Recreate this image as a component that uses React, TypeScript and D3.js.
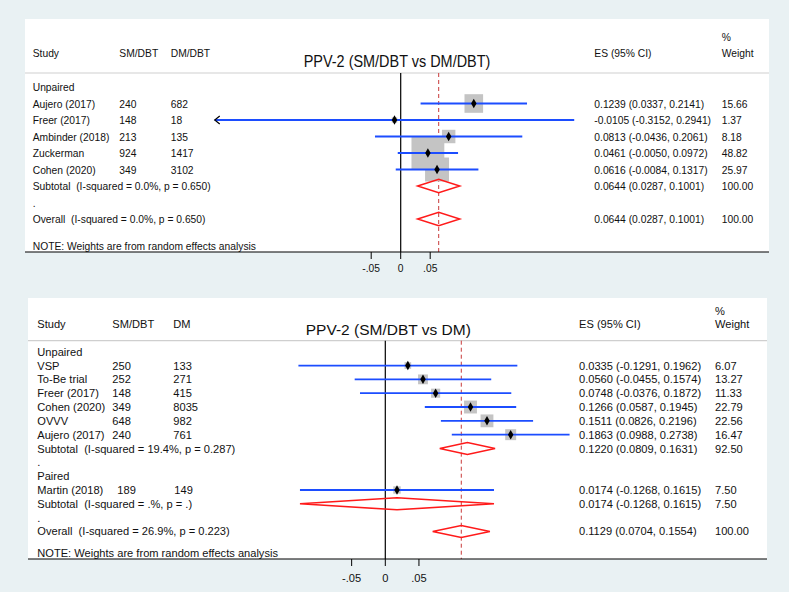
import React from "react";
import * as d3 from "d3";

// ---------- Data: top panel (SM/DBT vs DM/DBT) ----------
const topStudies = ["Aujero (2017)", "Freer (2017)", "Ambinder (2018)", "Zuckerman", "Cohen (2020)"];
const topSM = [240, 148, 213, 924, 349];
const topDM = [682, 18, 135, 1417, 3102];
const topES = [0.1239, -0.0105, 0.0813, 0.0461, 0.0616];
const topLo = [0.0337, -0.3152, -0.0436, -0.005, -0.0084];
const topHi = [0.2141, 0.2941, 0.2061, 0.0972, 0.1317];
const topW = [15.66, 1.37, 8.18, 48.82, 25.97];
const topPoolLabels = ["Subtotal  (I-squared = 0.0%, p = 0.650)", "Overall  (I-squared = 0.0%, p = 0.650)"];
const topPoolES = [0.0644, 0.0644];
const topPoolLo = [0.0287, 0.0287];
const topPoolHi = [0.1001, 0.1001];
const topPoolW = [100.0, 100.0];

// ---------- Data: bottom panel (SM/DBT vs DM) ----------
const botStudiesA = ["VSP", "To-Be trial", "Freer (2017)", "Cohen (2020)", "OVVV", "Aujero (2017)"];
const botSMA = [250, 252, 148, 349, 648, 240];
const botDMA = [133, 271, 415, 8035, 982, 761];
const botESA = [0.0335, 0.056, 0.0748, 0.1266, 0.1511, 0.1863];
const botLoA = [-0.1291, -0.0455, -0.0376, 0.0587, 0.0826, 0.0988];
const botHiA = [0.1962, 0.1574, 0.1872, 0.1945, 0.2196, 0.2738];
const botWA = [6.07, 13.27, 11.33, 22.79, 22.56, 16.47];
const botStudiesB = ["Martin (2018)"];
const botSMB = [189];
const botDMB = [149];
const botESB = [0.0174];
const botLoB = [-0.1268];
const botHiB = [0.1615];
const botWB = [7.5];
const botPoolLabels = [
  "Subtotal  (I-squared = 19.4%, p = 0.287)",
  "Subtotal  (I-squared = .%, p = .)",
  "Overall  (I-squared = 26.9%, p = 0.223)",
];
const botPoolES = [0.122, 0.0174, 0.1129];
const botPoolLo = [0.0809, -0.1268, 0.0704];
const botPoolHi = [0.1631, 0.1615, 0.1554];
const botPoolW = [92.5, 7.5, 100.0];

const tickValues = [-0.05, 0, 0.05];
const tickLabels = ["-.05", "0", ".05"];

const BLUE = "#1c4dff";
const RED = "#ff1a1a";
const DASH = "#c83a3a";
const BOX = "#c4c4c4";
const BG = "#e9f1f3";
const FONT = "'Liberation Sans', Arial, sans-serif";

const f4 = (v: number) => (v < 0 ? "-" : "") + Math.abs(v).toFixed(4);
const f2 = (v: number) => v.toFixed(2);

type Row =
  | { kind: "label"; text: string }
  | { kind: "dot" }
  | { kind: "study"; name: string; sm: number; dm: number; es: number; lo: number; hi: number; w: number; smOff?: number }
  | { kind: "pool"; name: string; es: number; lo: number; hi: number; w: number };

function studies(names: string[], sm: number[], dm: number[], es: number[], lo: number[], hi: number[], w: number[], smOff = 0): Row[] {
  return names.map((n, i) => ({ kind: "study", name: n, sm: sm[i], dm: dm[i], es: es[i], lo: lo[i], hi: hi[i], w: w[i], smOff }));
}
function pool(i: number, labels: string[], es: number[], lo: number[], hi: number[], w: number[]): Row {
  return { kind: "pool", name: labels[i], es: es[i], lo: lo[i], hi: hi[i], w: w[i] };
}

interface PanelCfg {
  title: string;
  dmHeader: string;
  box: [number, number, number, number];
  sepY: number;
  headerY: number;
  pctY: number;
  titleX: number;
  titleY: number;
  cols: { study: number; sm: number; dm: number; es: number; w: number };
  row0: number;
  rowH: number;
  noteY: number;
  x0px: number;
  pxPerUnit: number;
  fontSize: number;
  titleSize: number;
  sx: number;
  boxK: number;
  diaH: number;
  rows: Row[];
  tickLen: number;
  tickLabelY: number;
}

function Panel({ c }: { c: PanelCfg }) {
  const x = d3.scaleLinear().domain([0, 1]).range([c.x0px, c.x0px + c.pxPerUnit]);
  const y = (i: number) => c.row0 + i * c.rowH;
  const [bx0, by0, bx1, by1] = c.box;
  const fs = c.fontSize;
  const symbol = d3.symbol().type(d3.symbolDiamond).size(26)();
  const txt = (tx: number, ty: number, s: string | number, key: string, extra: any = {}, size = fs) => (
    <text
      key={key}
      transform={`translate(${tx},${ty}) scale(${c.sx},1)`}
      dy="0.36em"
      fontSize={size}
      style={{ whiteSpace: "pre" }}
      fill="#111"
      {...extra}
    >
      {s}
    </text>
  );
  const pooled = c.rows.filter((r) => r.kind === "pool") as any[];
  const overall = pooled[pooled.length - 1];
  return (
    <g fontFamily={FONT}>
      <rect x={bx0} y={by0} width={bx1 - bx0} height={by1 - by0} fill="#fff" />
      {txt(c.cols.study, c.headerY, "Study", "h1")}
      {txt(c.cols.sm, c.headerY, "SM/DBT", "h2")}
      {txt(c.cols.dm, c.headerY, c.dmHeader, "h3")}
      {txt(c.cols.es, c.headerY, "ES (95% CI)", "h4")}
      {txt(c.cols.w, c.pctY, "%", "h5")}
      {txt(c.cols.w, c.headerY, "Weight", "h6")}
      {txt(c.titleX, c.titleY, c.title, "title", { textAnchor: "middle" }, c.titleSize)}
      <line x1={bx0} x2={bx1} y1={c.sepY} y2={c.sepY} stroke="#cfcfcf" strokeWidth={1.2} />
      <line x1={x(0)} x2={x(0)} y1={c.sepY} y2={by1} stroke="#000" strokeWidth={1.2} />
      <line x1={x(overall.es)} x2={x(overall.es)} y1={c.sepY} y2={by1} stroke={DASH} strokeWidth={1} strokeDasharray="4,3" />
      {c.rows.map((r, i) => {
        if (r.kind !== "study") return null;
        const s = c.boxK * Math.sqrt(r.w);
        return <rect key={"b" + i} x={x(r.es) - s / 2} y={y(i) - s / 2} width={s} height={s} fill={BOX} />;
      })}
      {c.rows.map((r, i) => {
        const yy = y(i);
        if (r.kind === "label") return txt(c.cols.study, yy, r.text, "l" + i);
        if (r.kind === "dot") return txt(c.cols.study, yy, ".", "d" + i);
        if (r.kind === "study") {
          const arrow = r.lo < -0.25;
          const off = r.smOff || 0;
          return (
            <g key={"s" + i}>
              {txt(c.cols.study, yy, r.name, "n")}
              {txt(c.cols.sm + off, yy, r.sm, "sm")}
              {txt(c.cols.dm + off / 5, yy, r.dm, "dm")}
              {txt(c.cols.es, yy, `${f4(r.es)} (${f4(r.lo)}, ${f4(r.hi)})`, "es")}
              {txt(c.cols.w, yy, f2(r.w), "w")}
              <line x1={x(r.lo)} x2={x(r.hi)} y1={yy} y2={yy} stroke={BLUE} strokeWidth={1.8} />
              {arrow && (
                <path
                  d={`M${x(r.lo) + 5},${yy - 4}L${x(r.lo)},${yy}L${x(r.lo) + 5},${yy + 4}`}
                  fill="none"
                  stroke="#000"
                  strokeWidth={1.2}
                />
              )}
              <path d={symbol || ""} transform={`translate(${x(r.es)},${yy})`} fill="#000" />
            </g>
          );
        }
        const h = c.diaH;
        return (
          <g key={"p" + i}>
            {txt(c.cols.study, yy, r.name, "n")}
            {txt(c.cols.es, yy, `${f4(r.es)} (${f4(r.lo)}, ${f4(r.hi)})`, "es")}
            {txt(c.cols.w, yy, f2(r.w), "w")}
            <path
              d={`M${x(r.lo)},${yy}L${x(r.es)},${yy - h}L${x(r.hi)},${yy}L${x(r.es)},${yy + h}Z`}
              fill="none"
              stroke={RED}
              strokeWidth={1.5}
            />
          </g>
        );
      })}
      {txt(c.cols.study, c.noteY, "NOTE: Weights are from random effects analysis", "note")}
      <line x1={bx0} x2={bx1} y1={by1} y2={by1} stroke="#000" strokeWidth={1.2} />
      {tickValues.map((t, i) => (
        <g key={"t" + i}>
          <line x1={x(t)} x2={x(t)} y1={by1} y2={by1 + c.tickLen} stroke="#000" strokeWidth={1} />
          {txt(x(t), c.tickLabelY, tickLabels[i], "tl", { textAnchor: "middle" })}
        </g>
      ))}
    </g>
  );
}

export default function App() {
  const topRows: Row[] = [
    { kind: "label", text: "Unpaired" },
    ...studies(topStudies, topSM, topDM, topES, topLo, topHi, topW),
    pool(0, topPoolLabels, topPoolES, topPoolLo, topPoolHi, topPoolW),
    { kind: "dot" },
    pool(1, topPoolLabels, topPoolES, topPoolLo, topPoolHi, topPoolW),
  ];
  const botRows: Row[] = [
    { kind: "label", text: "Unpaired" },
    ...studies(botStudiesA, botSMA, botDMA, botESA, botLoA, botHiA, botWA),
    pool(0, botPoolLabels, botPoolES, botPoolLo, botPoolHi, botPoolW),
    { kind: "dot" },
    { kind: "label", text: "Paired" },
    ...studies(botStudiesB, botSMB, botDMB, botESB, botLoB, botHiB, botWB, 5),
    pool(1, botPoolLabels, botPoolES, botPoolLo, botPoolHi, botPoolW),
    { kind: "dot" },
    pool(2, botPoolLabels, botPoolES, botPoolLo, botPoolHi, botPoolW),
  ];
  const top: PanelCfg = {
    title: "PPV-2 (SM/DBT vs DM/DBT)",
    dmHeader: "DM/DBT",
    box: [25, 19, 769, 252],
    sepY: 73,
    headerY: 53,
    pctY: 36.5,
    titleX: 397,
    titleY: 61,
    cols: { study: 32.7, sm: 119.3, dm: 170.7, es: 594.3, w: 721.7 },
    row0: 87,
    rowH: 16.5,
    noteY: 245.5,
    x0px: 400.7,
    pxPerUnit: 590,
    fontSize: 11.2,
    titleSize: 15.7,
    sx: 0.92,
    boxK: 4.7,
    diaH: 6.7,
    rows: topRows,
    tickLen: 7,
    tickLabelY: 268,
  };
  const bot: PanelCfg = {
    title: "PPV-2 (SM/DBT vs DM)",
    dmHeader: "DM",
    box: [28, 298, 767, 559],
    sepY: 340.7,
    headerY: 324,
    pctY: 310.7,
    titleX: 388.3,
    titleY: 329,
    cols: { study: 37.3, sm: 112.3, dm: 173.3, es: 579, w: 715 },
    row0: 351.7,
    rowH: 13.83,
    noteY: 553.3,
    x0px: 385.3,
    pxPerUnit: 673,
    fontSize: 11.1,
    titleSize: 15.5,
    sx: 1,
    boxK: 2.7,
    diaH: 6,
    rows: botRows,
    tickLen: 7,
    tickLabelY: 578,
  };
  return (
    <svg width={789} height={592} style={{ position: "absolute", left: 0, top: 0 }}>
      <rect x={0} y={0} width={789} height={592} fill={BG} />
      <Panel c={top} />
      <Panel c={bot} />
    </svg>
  );
}
